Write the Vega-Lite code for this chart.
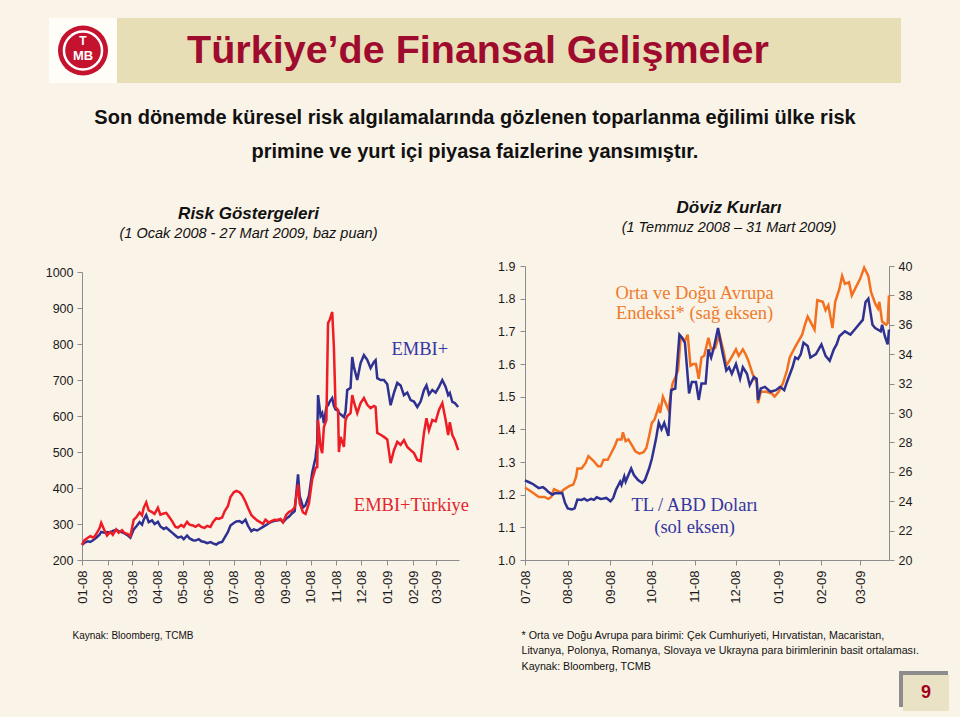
{
"$schema": "https://vega.github.io/schema/vega-lite/v6.json",
"background": "#FAF3E8",
"padding": {"left": 42, "top": 18, "right": 11, "bottom": 6},
"spacing": 0,
"config": {
  "view": {"stroke": null},
  "font": "Liberation Sans",
  "axis": {"domainColor": "#8C8C8C", "tickColor": "#8C8C8C", "labelColor": "#1A1A1A", "labelFont": "Liberation Sans", "labelFontSize": 12.5, "grid": false, "tickSize": 5, "labelPadding": 4}
},
"datasets": {
  "embi": [
    {"d":"2008-01-01","v":242},{"d":"2008-01-04","v":248},{"d":"2008-01-08","v":252},{"d":"2008-01-11","v":250},{"d":"2008-01-15","v":256},{"d":"2008-01-18","v":262},{"d":"2008-01-22","v":270},{"d":"2008-01-24","v":278},{"d":"2008-01-28","v":276},{"d":"2008-01-31","v":278},
    {"d":"2008-02-04","v":276},{"d":"2008-02-07","v":281},{"d":"2008-02-11","v":284},{"d":"2008-02-14","v":280},{"d":"2008-02-18","v":277},{"d":"2008-02-21","v":274},{"d":"2008-02-25","v":268},{"d":"2008-02-28","v":262},
    {"d":"2008-03-03","v":285},{"d":"2008-03-06","v":293},{"d":"2008-03-10","v":305},{"d":"2008-03-13","v":298},{"d":"2008-03-15","v":312},{"d":"2008-03-18","v":325},{"d":"2008-03-21","v":305},{"d":"2008-03-25","v":310},{"d":"2008-03-28","v":300},
    {"d":"2008-04-01","v":306},{"d":"2008-04-04","v":293},{"d":"2008-04-08","v":286},{"d":"2008-04-11","v":290},{"d":"2008-04-15","v":282},{"d":"2008-04-18","v":276},{"d":"2008-04-22","v":268},{"d":"2008-04-25","v":262},{"d":"2008-04-29","v":265},
    {"d":"2008-05-02","v":258},{"d":"2008-05-06","v":268},{"d":"2008-05-09","v":260},{"d":"2008-05-13","v":255},{"d":"2008-05-16","v":254},{"d":"2008-05-20","v":258},{"d":"2008-05-23","v":252},{"d":"2008-05-27","v":250},{"d":"2008-05-30","v":247},
    {"d":"2008-06-03","v":250},{"d":"2008-06-06","v":246},{"d":"2008-06-10","v":243},{"d":"2008-06-13","v":248},{"d":"2008-06-17","v":250},{"d":"2008-06-20","v":262},{"d":"2008-06-24","v":278},{"d":"2008-06-27","v":296},
    {"d":"2008-07-01","v":303},{"d":"2008-07-04","v":307},{"d":"2008-07-08","v":308},{"d":"2008-07-11","v":303},{"d":"2008-07-15","v":312},{"d":"2008-07-18","v":295},{"d":"2008-07-22","v":280},{"d":"2008-07-25","v":285},{"d":"2008-07-29","v":282},
    {"d":"2008-08-01","v":286},{"d":"2008-08-05","v":292},{"d":"2008-08-08","v":296},{"d":"2008-08-12","v":302},{"d":"2008-08-15","v":306},{"d":"2008-08-19","v":309},{"d":"2008-08-22","v":310},{"d":"2008-08-26","v":312},{"d":"2008-08-29","v":305},
    {"d":"2008-09-02","v":315},{"d":"2008-09-05","v":320},{"d":"2008-09-09","v":330},{"d":"2008-09-12","v":336},{"d":"2008-09-16","v":438},{"d":"2008-09-18","v":378},{"d":"2008-09-22","v":346},{"d":"2008-09-25","v":352},{"d":"2008-09-29","v":378},
    {"d":"2008-10-01","v":410},{"d":"2008-10-03","v":443},{"d":"2008-10-07","v":484},{"d":"2008-10-09","v":526},{"d":"2008-10-10","v":658},{"d":"2008-10-13","v":600},{"d":"2008-10-15","v":608},{"d":"2008-10-17","v":580},{"d":"2008-10-20","v":625},{"d":"2008-10-22","v":630},{"d":"2008-10-24","v":640},{"d":"2008-10-27","v":650},{"d":"2008-10-29","v":628},{"d":"2008-10-31","v":618},
    {"d":"2008-11-03","v":615},{"d":"2008-11-04","v":608},{"d":"2008-11-06","v":605},{"d":"2008-11-10","v":597},{"d":"2008-11-12","v":612},{"d":"2008-11-14","v":672},{"d":"2008-11-18","v":678},{"d":"2008-11-20","v":764},{"d":"2008-11-22","v":736},{"d":"2008-11-26","v":700},{"d":"2008-11-30","v":747},
    {"d":"2008-12-04","v":769},{"d":"2008-12-08","v":756},{"d":"2008-12-12","v":733},{"d":"2008-12-16","v":750},{"d":"2008-12-18","v":755},{"d":"2008-12-20","v":705},{"d":"2008-12-24","v":700},{"d":"2008-12-28","v":700},
    {"d":"2009-01-01","v":688},{"d":"2009-01-05","v":630},{"d":"2009-01-09","v":664},{"d":"2009-01-13","v":692},{"d":"2009-01-17","v":685},{"d":"2009-01-21","v":658},{"d":"2009-01-25","v":665},{"d":"2009-01-29","v":644},
    {"d":"2009-02-02","v":640},{"d":"2009-02-06","v":625},{"d":"2009-02-10","v":640},{"d":"2009-02-14","v":672},{"d":"2009-02-17","v":685},{"d":"2009-02-20","v":660},{"d":"2009-02-24","v":672},{"d":"2009-02-28","v":665},
    {"d":"2009-03-04","v":681},{"d":"2009-03-08","v":700},{"d":"2009-03-12","v":681},{"d":"2009-03-15","v":658},{"d":"2009-03-17","v":664},{"d":"2009-03-20","v":639},{"d":"2009-03-23","v":636},{"d":"2009-03-27","v":625}
  ],
  "embitr": [
    {"d":"2008-01-01","v":242},{"d":"2008-01-04","v":255},{"d":"2008-01-08","v":262},{"d":"2008-01-11","v":266},{"d":"2008-01-15","v":262},{"d":"2008-01-18","v":272},{"d":"2008-01-22","v":288},{"d":"2008-01-24","v":303},{"d":"2008-01-28","v":282},{"d":"2008-01-31","v":268},
    {"d":"2008-02-04","v":278},{"d":"2008-02-07","v":270},{"d":"2008-02-11","v":285},{"d":"2008-02-14","v":276},{"d":"2008-02-18","v":283},{"d":"2008-02-21","v":275},{"d":"2008-02-25","v":272},{"d":"2008-02-28","v":266},
    {"d":"2008-03-03","v":312},{"d":"2008-03-06","v":318},{"d":"2008-03-10","v":332},{"d":"2008-03-13","v":324},{"d":"2008-03-15","v":345},{"d":"2008-03-18","v":360},{"d":"2008-03-21","v":338},{"d":"2008-03-25","v":333},{"d":"2008-03-28","v":328},
    {"d":"2008-04-01","v":345},{"d":"2008-04-04","v":326},{"d":"2008-04-08","v":329},{"d":"2008-04-11","v":331},{"d":"2008-04-15","v":318},{"d":"2008-04-18","v":308},{"d":"2008-04-22","v":292},{"d":"2008-04-25","v":290},{"d":"2008-04-29","v":297},
    {"d":"2008-05-02","v":292},{"d":"2008-05-06","v":306},{"d":"2008-05-09","v":298},{"d":"2008-05-13","v":296},{"d":"2008-05-16","v":292},{"d":"2008-05-20","v":298},{"d":"2008-05-23","v":292},{"d":"2008-05-27","v":289},{"d":"2008-05-30","v":295},
    {"d":"2008-06-03","v":292},{"d":"2008-06-06","v":305},{"d":"2008-06-10","v":316},{"d":"2008-06-13","v":314},{"d":"2008-06-17","v":318},{"d":"2008-06-20","v":335},{"d":"2008-06-24","v":350},{"d":"2008-06-27","v":375},
    {"d":"2008-07-01","v":388},{"d":"2008-07-04","v":392},{"d":"2008-07-08","v":388},{"d":"2008-07-11","v":380},{"d":"2008-07-15","v":362},{"d":"2008-07-18","v":345},{"d":"2008-07-22","v":325},{"d":"2008-07-25","v":318},{"d":"2008-07-29","v":310},
    {"d":"2008-08-01","v":306},{"d":"2008-08-05","v":300},{"d":"2008-08-08","v":312},{"d":"2008-08-12","v":304},{"d":"2008-08-15","v":308},{"d":"2008-08-19","v":312},{"d":"2008-08-22","v":311},{"d":"2008-08-26","v":314},{"d":"2008-08-29","v":305},
    {"d":"2008-09-02","v":326},{"d":"2008-09-05","v":333},{"d":"2008-09-09","v":338},{"d":"2008-09-12","v":346},{"d":"2008-09-16","v":410},{"d":"2008-09-18","v":358},{"d":"2008-09-22","v":332},{"d":"2008-09-25","v":328},{"d":"2008-09-29","v":356},
    {"d":"2008-10-01","v":390},{"d":"2008-10-03","v":424},{"d":"2008-10-07","v":456},{"d":"2008-10-09","v":458},{"d":"2008-10-10","v":589},{"d":"2008-10-13","v":514},{"d":"2008-10-15","v":497},{"d":"2008-10-17","v":569},{"d":"2008-10-20","v":589},{"d":"2008-10-22","v":858},{"d":"2008-10-24","v":867},{"d":"2008-10-27","v":889},{"d":"2008-10-29","v":792},{"d":"2008-10-31","v":625},
    {"d":"2008-11-03","v":617},{"d":"2008-11-04","v":500},{"d":"2008-11-06","v":542},{"d":"2008-11-10","v":514},{"d":"2008-11-12","v":589},{"d":"2008-11-14","v":600},{"d":"2008-11-18","v":608},{"d":"2008-11-20","v":658},{"d":"2008-11-22","v":639},{"d":"2008-11-26","v":608},{"d":"2008-11-30","v":636},
    {"d":"2008-12-04","v":650},{"d":"2008-12-08","v":631},{"d":"2008-12-12","v":622},{"d":"2008-12-16","v":628},{"d":"2008-12-18","v":625},{"d":"2008-12-20","v":553},{"d":"2008-12-24","v":548},{"d":"2008-12-28","v":542},
    {"d":"2009-01-01","v":535},{"d":"2009-01-05","v":469},{"d":"2009-01-09","v":505},{"d":"2009-01-13","v":528},{"d":"2009-01-17","v":520},{"d":"2009-01-21","v":533},{"d":"2009-01-25","v":514},{"d":"2009-01-29","v":505},
    {"d":"2009-02-02","v":497},{"d":"2009-02-06","v":478},{"d":"2009-02-10","v":475},{"d":"2009-02-14","v":553},{"d":"2009-02-17","v":594},{"d":"2009-02-20","v":560},{"d":"2009-02-24","v":589},{"d":"2009-02-28","v":585},
    {"d":"2009-03-04","v":617},{"d":"2009-03-08","v":636},{"d":"2009-03-12","v":589},{"d":"2009-03-15","v":547},{"d":"2009-03-17","v":583},{"d":"2009-03-20","v":547},{"d":"2009-03-23","v":533},{"d":"2009-03-27","v":505}
  ],
  "tl": [
    {"d":"2008-07-01","v":1.244},{"d":"2008-07-04","v":1.238},{"d":"2008-07-07","v":1.232},{"d":"2008-07-09","v":1.226},{"d":"2008-07-11","v":1.22},{"d":"2008-07-14","v":1.223},{"d":"2008-07-16","v":1.217},{"d":"2008-07-18","v":1.208},{"d":"2008-07-21","v":1.2},{"d":"2008-07-23","v":1.205},{"d":"2008-07-25","v":1.204},{"d":"2008-07-28","v":1.205},{"d":"2008-07-30","v":1.175},
    {"d":"2008-08-01","v":1.158},{"d":"2008-08-04","v":1.155},{"d":"2008-08-06","v":1.158},{"d":"2008-08-08","v":1.185},{"d":"2008-08-11","v":1.184},{"d":"2008-08-13","v":1.188},{"d":"2008-08-15","v":1.182},{"d":"2008-08-18","v":1.187},{"d":"2008-08-20","v":1.184},{"d":"2008-08-22","v":1.192},{"d":"2008-08-25","v":1.187},{"d":"2008-08-27","v":1.188},{"d":"2008-08-29","v":1.19},
    {"d":"2008-09-01","v":1.18},{"d":"2008-09-03","v":1.19},{"d":"2008-09-05","v":1.215},{"d":"2008-09-08","v":1.24},{"d":"2008-09-09","v":1.23},{"d":"2008-09-11","v":1.256},{"d":"2008-09-12","v":1.24},{"d":"2008-09-14","v":1.26},{"d":"2008-09-16","v":1.28},{"d":"2008-09-18","v":1.26},{"d":"2008-09-21","v":1.245},{"d":"2008-09-24","v":1.236},{"d":"2008-09-26","v":1.245},{"d":"2008-09-29","v":1.28},
    {"d":"2008-10-01","v":1.31},{"d":"2008-10-04","v":1.37},{"d":"2008-10-06","v":1.42},{"d":"2008-10-08","v":1.4},{"d":"2008-10-10","v":1.42},{"d":"2008-10-13","v":1.38},{"d":"2008-10-15","v":1.52},{"d":"2008-10-18","v":1.525},{"d":"2008-10-21","v":1.69},{"d":"2008-10-23","v":1.68},{"d":"2008-10-25","v":1.665},{"d":"2008-10-28","v":1.51},{"d":"2008-10-30","v":1.545},
    {"d":"2008-11-02","v":1.545},{"d":"2008-11-04","v":1.49},{"d":"2008-11-06","v":1.54},{"d":"2008-11-09","v":1.54},{"d":"2008-11-11","v":1.645},{"d":"2008-11-13","v":1.62},{"d":"2008-11-15","v":1.65},{"d":"2008-11-18","v":1.71},{"d":"2008-11-21","v":1.64},{"d":"2008-11-24","v":1.58},{"d":"2008-11-26","v":1.59},{"d":"2008-11-28","v":1.57},
    {"d":"2008-12-01","v":1.6},{"d":"2008-12-04","v":1.555},{"d":"2008-12-06","v":1.59},{"d":"2008-12-09","v":1.57},{"d":"2008-12-11","v":1.535},{"d":"2008-12-14","v":1.56},{"d":"2008-12-16","v":1.555},{"d":"2008-12-17","v":1.49},{"d":"2008-12-19","v":1.525},{"d":"2008-12-22","v":1.53},{"d":"2008-12-26","v":1.515},{"d":"2008-12-30","v":1.52},
    {"d":"2009-01-02","v":1.53},{"d":"2009-01-05","v":1.52},{"d":"2009-01-07","v":1.545},{"d":"2009-01-11","v":1.59},{"d":"2009-01-13","v":1.62},{"d":"2009-01-15","v":1.615},{"d":"2009-01-17","v":1.63},{"d":"2009-01-19","v":1.665},{"d":"2009-01-22","v":1.655},{"d":"2009-01-24","v":1.62},{"d":"2009-01-28","v":1.63},
    {"d":"2009-02-01","v":1.66},{"d":"2009-02-04","v":1.625},{"d":"2009-02-07","v":1.61},{"d":"2009-02-10","v":1.645},{"d":"2009-02-12","v":1.66},{"d":"2009-02-14","v":1.685},{"d":"2009-02-18","v":1.7},{"d":"2009-02-22","v":1.69},{"d":"2009-02-25","v":1.705},
    {"d":"2009-03-01","v":1.725},{"d":"2009-03-03","v":1.735},{"d":"2009-03-05","v":1.79},{"d":"2009-03-07","v":1.8},{"d":"2009-03-10","v":1.72},{"d":"2009-03-12","v":1.71},{"d":"2009-03-16","v":1.7},{"d":"2009-03-17","v":1.72},{"d":"2009-03-19","v":1.685},{"d":"2009-03-21","v":1.66},{"d":"2009-03-22","v":1.705}
  ],
  "cee": [
    {"d":"2008-07-01","v":24.93},{"d":"2008-07-07","v":24.56},{"d":"2008-07-11","v":24.29},{"d":"2008-07-15","v":24.29},{"d":"2008-07-18","v":24.16},{"d":"2008-07-20","v":24.29},{"d":"2008-07-22","v":24.82},{"d":"2008-07-24","v":24.73},{"d":"2008-07-27","v":24.6},{"d":"2008-07-29","v":24.78},
    {"d":"2008-08-02","v":25.02},{"d":"2008-08-05","v":25.13},{"d":"2008-08-07","v":25.64},{"d":"2008-08-08","v":26.22},{"d":"2008-08-11","v":26.22},{"d":"2008-08-14","v":26.6},{"d":"2008-08-16","v":27.07},{"d":"2008-08-20","v":26.71},{"d":"2008-08-23","v":26.38},{"d":"2008-08-25","v":26.38},{"d":"2008-08-27","v":26.82},{"d":"2008-08-30","v":26.82},
    {"d":"2008-09-01","v":27.18},{"d":"2008-09-04","v":27.73},{"d":"2008-09-06","v":28.2},{"d":"2008-09-09","v":28.2},{"d":"2008-09-10","v":28.69},{"d":"2008-09-12","v":28.09},{"d":"2008-09-14","v":28.2},{"d":"2008-09-17","v":27.73},{"d":"2008-09-19","v":27.4},{"d":"2008-09-22","v":27.24},{"d":"2008-09-25","v":27.33},{"d":"2008-09-27","v":27.62},{"d":"2008-09-29","v":28.42},
    {"d":"2008-10-01","v":29.33},{"d":"2008-10-03","v":29.56},{"d":"2008-10-06","v":30.44},{"d":"2008-10-07","v":30.0},{"d":"2008-10-09","v":31.11},{"d":"2008-10-12","v":30.44},{"d":"2008-10-13","v":30.22},{"d":"2008-10-16","v":32.0},{"d":"2008-10-18","v":32.44},{"d":"2008-10-20","v":32.89},{"d":"2008-10-22","v":35.22},{"d":"2008-10-25","v":34.89},{"d":"2008-10-27","v":35.33},{"d":"2008-10-29","v":33.22},{"d":"2008-10-31","v":33.33},
    {"d":"2008-11-02","v":33.33},{"d":"2008-11-04","v":32.33},{"d":"2008-11-06","v":33.78},{"d":"2008-11-08","v":33.89},{"d":"2008-11-11","v":35.11},{"d":"2008-11-13","v":34.33},{"d":"2008-11-16","v":34.44},{"d":"2008-11-19","v":35.33},{"d":"2008-11-22","v":34.22},{"d":"2008-11-24","v":33.22},{"d":"2008-11-27","v":33.67},
    {"d":"2008-12-01","v":34.33},{"d":"2008-12-03","v":33.89},{"d":"2008-12-06","v":34.33},{"d":"2008-12-08","v":34.0},{"d":"2008-12-10","v":33.56},{"d":"2008-12-13","v":32.67},{"d":"2008-12-16","v":32.11},{"d":"2008-12-17","v":30.67},{"d":"2008-12-19","v":31.44},{"d":"2008-12-23","v":31.44},{"d":"2008-12-27","v":31.33},{"d":"2008-12-29","v":31.11},
    {"d":"2009-01-01","v":31.44},{"d":"2009-01-04","v":32.0},{"d":"2009-01-07","v":32.89},{"d":"2009-01-09","v":33.78},{"d":"2009-01-12","v":34.33},{"d":"2009-01-14","v":34.67},{"d":"2009-01-18","v":35.33},{"d":"2009-01-20","v":36.0},{"d":"2009-01-22","v":36.56},{"d":"2009-01-24","v":36.22},{"d":"2009-01-27","v":35.67},{"d":"2009-01-29","v":37.67},
    {"d":"2009-02-02","v":37.56},{"d":"2009-02-04","v":37.0},{"d":"2009-02-06","v":37.33},{"d":"2009-02-09","v":35.78},{"d":"2009-02-11","v":37.56},{"d":"2009-02-14","v":38.44},{"d":"2009-02-16","v":39.33},{"d":"2009-02-18","v":38.78},{"d":"2009-02-21","v":38.89},{"d":"2009-02-23","v":38.0},{"d":"2009-02-26","v":38.56},
    {"d":"2009-03-01","v":39.11},{"d":"2009-03-04","v":39.89},{"d":"2009-03-07","v":39.33},{"d":"2009-03-09","v":38.22},{"d":"2009-03-12","v":37.44},{"d":"2009-03-14","v":37.11},{"d":"2009-03-15","v":37.56},{"d":"2009-03-17","v":36.22},{"d":"2009-03-20","v":36.0},{"d":"2009-03-21","v":36.11},{"d":"2009-03-22","v":38.0}
  ]
},
"vconcat": [
  {"hconcat": [
    {"width": 7, "height": 65, "data": {"values": []}, "mark": "point"},
    {"width": 68, "height": 65, "view": {"fill": "#FFFDF7"}, "data": {"values": [{"a": "TCMB"}]},
     "layer": [
       {"mark": {"type": "point", "shape": "circle", "size": 2500, "filled": true, "color": "#C4122F", "opacity": 1}},
       {"mark": {"type": "point", "shape": "circle", "size": 1450, "filled": false, "stroke": "#FFFFFF", "strokeWidth": 2.5, "opacity": 1}},
       {"mark": {"type": "text", "text": "T", "fontSize": 12, "fontWeight": "bold", "color": "#FFFFFF", "dy": -10}},
       {"mark": {"type": "text", "text": "MB", "fontSize": 13, "fontWeight": "bold", "color": "#FFFFFF", "dy": 5}}
     ]},
    {"width": 784, "height": 65, "view": {"fill": "#E8DEB5"}, "data": {"values": [{"t": "Türkiye’de Finansal Gelişmeler"}]},
     "mark": {"type": "text", "fontSize": 39.5, "fontWeight": "bold", "color": "#9E0B2E", "dx": -31, "align": "center", "baseline": "middle"},
     "encoding": {"text": {"field": "t"}}}
  ], "spacing": 0, "bounds": "flush"},

  {"width": 866, "height": 104, "data": {"values": [{"t": "Son dönemde küresel risk algılamalarında gözlenen toparlanma eğilimi ülke risk\nprimine ve yurt içi piyasa faizlerine yansımıştır."}]},
   "mark": {"type": "text", "fontSize": 20, "fontWeight": "bold", "color": "#111111", "lineBreak": "\n", "lineHeight": 34, "align": "center", "baseline": "middle", "dy": -17},
   "encoding": {"text": {"field": "t"}}},

  {"width": 1, "height": 11, "data": {"values": []}, "mark": "point"},

  {"hconcat": [
    {"width": 40, "height": 1, "data": {"values": []}, "mark": "point"},
    {"width": 377, "height": 294,
     "title": {"text": "Risk Göstergeleri", "subtitle": "(1 Ocak 2008 - 27 Mart 2009, baz puan)", "frame": "group", "anchor": "middle", "dx": -22, "offset": 25, "font": "Liberation Sans", "fontSize": 17, "fontWeight": "bold", "fontStyle": "italic", "color": "#111111", "subtitleFont": "Liberation Sans", "subtitleFontSize": 14.5, "subtitleFontStyle": "italic", "subtitleColor": "#111111", "subtitlePadding": 4},
     "encoding": {
       "x": {"field": "d", "type": "temporal",
             "scale": {"type": "utc", "nice": false, "domain": [{"year": 2008, "month": 1, "date": 1, "utc": true}, {"year": 2009, "month": 3, "date": 28, "utc": true}]},
             "axis": {"format": "%m-%y", "tickCount": {"interval": "month", "step": 1}, "labelAngle": 270, "labelAlign": "right", "labelBaseline": "middle", "labelPadding": 5, "labelFlush": false, "labelOverlap": false, "labelFontSize": 13,
                      "title": "Kaynak: Bloomberg, TCMB", "titleAnchor": "start", "titleAlign": "left", "titleBaseline": "top", "titleX": -10, "titleY": 70, "titleFont": "Liberation Sans", "titleFontSize": 10, "titleFontWeight": "normal", "titleColor": "#111111"}},
       "y": {"field": "v", "type": "quantitative",
             "scale": {"domain": [200, 1000], "range": [294, 6], "nice": false, "zero": false},
             "axis": {"values": [200, 300, 400, 500, 600, 700, 800, 900, 1000], "format": "d", "title": null, "labelPadding": 4}}
     },
     "layer": [
       {"data": {"name": "embi"}, "mark": {"type": "line", "color": "#2E3191", "strokeWidth": 2.5}, "encoding": {}},
       {"data": {"name": "embitr"}, "mark": {"type": "line", "color": "#EE1C25", "strokeWidth": 2.5}, "encoding": {}},
       {"data": {"values": [{"d": "2009-02-09", "v": 786, "label": "EMBI+"}]},
        "mark": {"type": "text", "font": "Liberation Serif", "fontSize": 18.5, "color": "#3535A5", "align": "center", "baseline": "middle"},
        "encoding": {"text": {"field": "label"}}},
       {"data": {"values": [{"d": "2009-01-30", "v": 353, "label": "EMBI+Türkiye"}]},
        "mark": {"type": "text", "font": "Liberation Serif", "fontSize": 18.5, "color": "#E3262C", "align": "center", "baseline": "middle"},
        "encoding": {"text": {"field": "label"}}}
     ]},
    {"width": 66, "height": 1, "data": {"values": []}, "mark": "point"},
    {"width": 364, "height": 294,
     "title": {"text": "Döviz Kurları", "subtitle": "(1 Temmuz 2008 – 31 Mart 2009)", "frame": "group", "anchor": "middle", "dx": 22, "offset": 25, "font": "Liberation Sans", "fontSize": 17, "fontWeight": "bold", "fontStyle": "italic", "color": "#111111", "subtitleFont": "Liberation Sans", "subtitleFontSize": 14.5, "subtitleFontStyle": "italic", "subtitleColor": "#111111", "subtitlePadding": 4},
     "encoding": {
       "x": {"field": "d", "type": "temporal",
             "scale": {"type": "utc", "nice": false, "domain": [{"year": 2008, "month": 7, "date": 1, "utc": true}, {"year": 2009, "month": 3, "date": 22, "utc": true}]},
             "axis": {"format": "%m-%y", "tickCount": {"interval": "month", "step": 1}, "labelAngle": 270, "labelAlign": "right", "labelBaseline": "middle", "labelPadding": 5, "labelFlush": false, "labelOverlap": false, "labelFontSize": 13,
                      "title": ["* Orta ve Doğu Avrupa para birimi: Çek Cumhuriyeti, Hırvatistan, Macaristan,", "Litvanya, Polonya, Romanya, Slovaya ve Ukrayna para birimlerinin basit ortalaması.", "Kaynak: Bloomberg, TCMB"],
                      "titleAnchor": "start", "titleAlign": "left", "titleBaseline": "top", "titleX": -4, "titleY": 70, "titleLineHeight": 15.5, "titleFont": "Liberation Sans", "titleFontSize": 10.7, "titleFontWeight": "normal", "titleColor": "#111111"}}
     },
     "layer": [
       {"encoding": {"y": {"field": "v", "type": "quantitative", "scale": {"domain": [20, 40], "nice": false, "zero": false},
                           "axis": {"orient": "right", "values": [20, 22, 24, 26, 28, 30, 32, 34, 36, 38, 40], "title": null, "labelPadding": 4}}},
        "layer": [
          {"data": {"name": "cee"}, "mark": {"type": "line", "color": "#F37021", "strokeWidth": 2.5}, "encoding": {}},
          {"data": {"values": [{"d": "2008-11-01", "v": 38.16, "label": "Orta ve Doğu Avrupa"}, {"d": "2008-11-01", "v": 36.8, "label": "Endeksi* (sağ eksen)"}]},
           "mark": {"type": "text", "font": "Liberation Serif", "fontSize": 18.5, "color": "#F07B2A", "align": "center", "baseline": "middle"},
           "encoding": {"text": {"field": "label"}}}
        ]},
       {"encoding": {"y": {"field": "v", "type": "quantitative", "scale": {"domain": [1.0, 1.9], "nice": false, "zero": false},
                           "axis": {"orient": "left", "values": [1.0, 1.1, 1.2, 1.3, 1.4, 1.5, 1.6, 1.7, 1.8, 1.9], "format": ".1f", "title": null, "labelPadding": 5}}},
        "layer": [
          {"data": {"name": "tl"}, "mark": {"type": "line", "color": "#2E3191", "strokeWidth": 2.5}, "encoding": {}},
          {"data": {"values": [{"d": "2008-11-01", "v": 1.168, "label": "TL / ABD Doları"}, {"d": "2008-11-01", "v": 1.101, "label": "(sol eksen)"}]},
           "mark": {"type": "text", "font": "Liberation Serif", "fontSize": 18.5, "color": "#3535A0", "align": "center", "baseline": "middle"},
           "encoding": {"text": {"field": "label"}}}
        ]}
     ],
     "resolve": {"scale": {"y": "independent"}}}
  ], "spacing": 0, "bounds": "flush"},

  {"hconcat": [
    {"width": 857, "height": 4, "data": {"values": []}, "mark": "point"},
    {"vconcat": [
      {"width": 49, "height": 4, "view": {"fill": "#8C8C8C"}, "data": {"values": []}, "mark": "point"},
      {"hconcat": [
        {"width": 4, "height": 32, "view": {"fill": "#8C8C8C"}, "data": {"values": []}, "mark": "point"},
        {"width": 46, "height": 36, "view": {"fill": "#EAE2C4"}, "data": {"values": [{"n": "9"}]},
         "mark": {"type": "text", "fontSize": 18, "fontWeight": "bold", "color": "#A3001E", "align": "center", "baseline": "middle"},
         "encoding": {"text": {"field": "n"}}}
      ], "spacing": 0, "bounds": "flush"}
    ], "spacing": 0, "bounds": "flush"}
  ], "spacing": 0, "bounds": "flush"}
]
}
